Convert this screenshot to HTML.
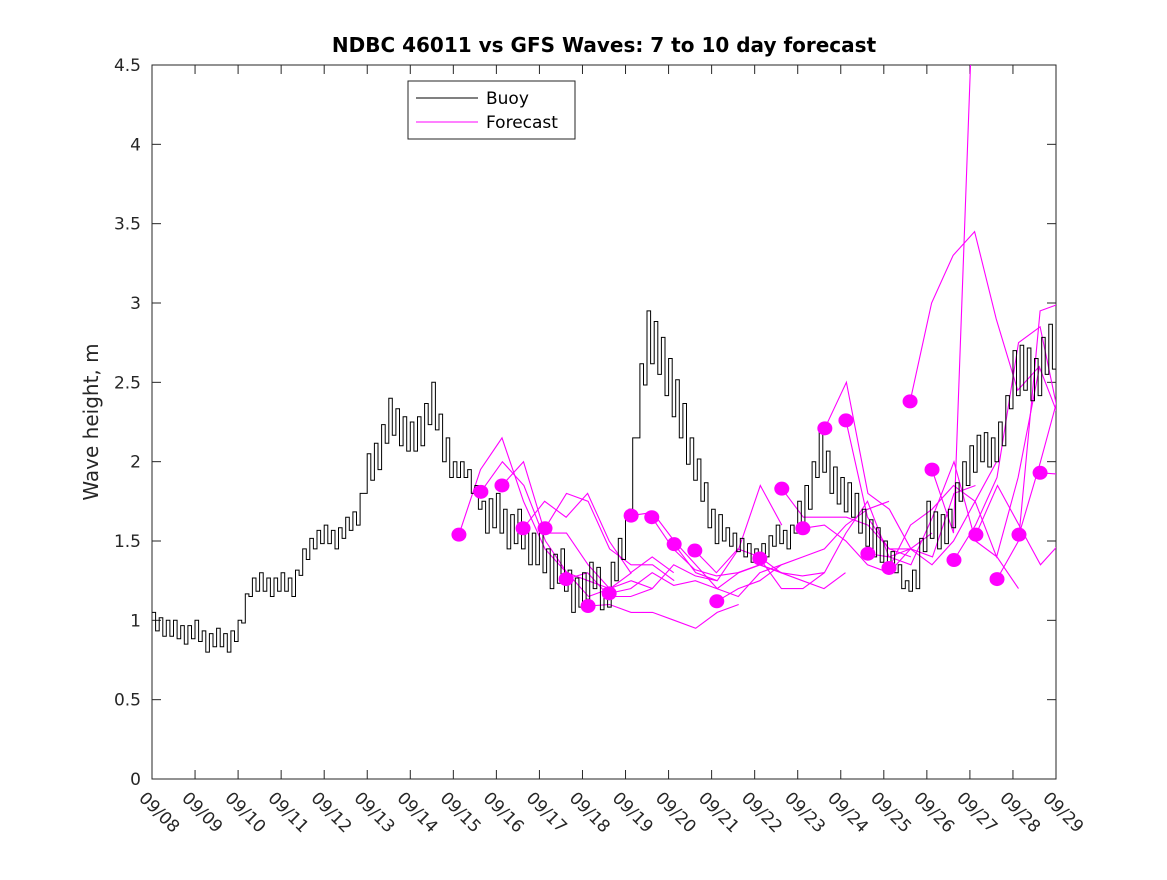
<!DOCTYPE html>
<html><head><meta charset="utf-8"><style>
body{margin:0;background:#fff}
svg text{font-family:"DejaVu Sans","Liberation Sans",sans-serif;fill:#262626}
</style></head><body>
<svg id="chart" width="1167" height="875" xmlns="http://www.w3.org/2000/svg">
<rect width="1167" height="875" fill="#fff"/>
<text x="604" y="52" text-anchor="middle" font-size="20" font-weight="bold" style="fill:#000">NDBC 46011 vs GFS Waves: 7 to 10 day forecast</text>
<text transform="translate(98,422) rotate(-90)" text-anchor="middle" font-size="20">Wave height, m</text>
<g id="axes"></g>
<g id="plot"></g>
<g>
<rect x="408" y="81" width="167" height="58" fill="#fff" stroke="#262626" stroke-width="1"/>
<line x1="416" y1="98" x2="478" y2="98" stroke="#000" stroke-width="1"/>
<text x="486" y="104" font-size="17" style="fill:#000">Buoy</text>
<line x1="416" y1="122" x2="478" y2="122" stroke="#f0f" stroke-width="1"/>
<text x="486" y="128" font-size="17" style="fill:#000">Forecast</text>
</g>
</svg>
<script>
const xTickLabels=["09/08","09/09","09/10","09/11","09/12","09/13","09/14","09/15","09/16","09/17","09/18","09/19","09/20","09/21","09/22","09/23","09/24","09/25","09/26","09/27","09/28","09/29"];
const yTicks=[0,0.5,1,1.5,2,2.5,3,3.5,4,4.5];
const yTickLabels=["0","0.5","1","1.5","2","2.5","3","3.5","4","4.5"];
const buoyStep=0.25;
const buoy=[1.0,0.95,0.95,0.9, 0.95,0.85,0.9,0.85, 0.95,1.2,1.25,1.2, 1.25,1.2,1.4,1.5, 1.55,1.5,1.6,1.65, 1.95,2.05,2.3,2.2, 2.15,2.2,2.4,2.1, 1.95,1.95,1.8,1.65, 1.7,1.55,1.6,1.45, 1.45,1.3,1.35,1.15, 1.2,1.3,1.1,1.35, 1.55,2.3,2.8,2.7, 2.5,2.3,2.05,1.85, 1.6,1.55,1.5,1.45, 1.4,1.45,1.55,1.5, 1.65,1.8,2.1,1.9, 1.8,1.75,1.6,1.5, 1.45,1.35,1.2,1.3, 1.65,1.55,1.6,1.85, 2.0,2.1,2.05,2.2, 2.55,2.6,2.5,2.7, 2.75];
const buoySpread=[0.1,0.1,0.1,0.1, 0.1,0.1,0.1,0.1, 0.1,0.1,0.1,0.1, 0.1,0.1,0.1,0.1, 0.1,0.1,0.1,0.1, 0.2,0.2,0.2,0.2, 0.2,0.2,0.2,0.2, 0.1,0.1,0.1,0.2, 0.2,0.2,0.2,0.2, 0.2,0.2,0.2,0.2, 0.2,0.2,0.2,0.2, 0.2,0.3,0.3,0.3, 0.3,0.3,0.2,0.2, 0.2,0.1,0.1,0.1, 0.1,0.1,0.1,0.1, 0.2,0.2,0.2,0.2, 0.2,0.2,0.2,0.2, 0.1,0.1,0.1,0.2, 0.2,0.2,0.2,0.2, 0.2,0.2,0.2,0.2, 0.3,0.3,0.3,0.3, 0.2];
const fcStep=0.5;
const fcStart=[7.13,7.64,8.13,8.62,9.13,9.62,10.13,10.62,11.13,11.61,12.13,12.61,13.12,14.12,14.63,15.12,15.63,16.12,16.63,17.12,17.61,18.12,18.63,19.14,19.63,20.14,20.63];
const fcVals=[
[1.54,1.95,2.15,1.75,1.45,1.3,1.25,1.2],
[1.81,2.0,1.85,1.5,1.3,1.15,1.2,1.3],
[1.85,2.0,1.55,1.55,1.35,1.2,1.25,1.2],
[1.58,1.75,1.65,1.8,1.5,1.3,1.4,1.3],
[1.58,1.8,1.75,1.45,1.35,1.35,1.25],
[1.26,1.3,1.15,1.15,1.2,1.35,1.28,1.25],
[1.09,1.1,1.05,1.05,1.0,0.95,1.05,1.1],
[1.17,1.2,1.3,1.22,1.25,1.2,1.15,1.3,1.35],
[1.66,1.68,1.5,1.35,1.2,1.3,1.35,1.3],
[1.65,1.45,1.32,1.28,1.3,1.35,1.3,1.28,1.3],
[1.48,1.3,1.25,1.45,1.85,1.6],
[1.44,1.3,1.45,1.4,1.3,1.25,1.2,1.3],
[1.12,1.2,1.25,1.35,1.4,1.45,1.6,1.7,1.75],
[1.39,1.2,1.2,1.3,1.55,1.75,1.4,1.45],
[1.83,1.65,1.65,1.65,1.6,1.45,1.4],
[1.58,1.6,1.5,1.35,1.3,1.45,1.55],
[2.21,2.5,1.8,1.7,1.45,1.4,1.8,1.85],
[2.26,1.65,1.45,1.45,1.35,1.5,1.75,2.0],
[1.42,1.4,1.35,1.65,2.0,1.5,1.4,1.2],
[1.33,1.6,1.7,1.85,1.75,1.4,1.9,2.6],
[2.38,3.0,3.3,3.45,2.9,2.45,2.6,2.25],
[1.95,1.55,5.3],
[1.38,1.6,1.9,2.75,2.85,2.2,1.9,1.85],
[1.54,1.85,1.6,1.35,1.5,1.35,1.45,1.6],
[1.26,1.5,2.95,3.0,2.6,2.3],
[1.54,2.0,2.5],
[1.93,1.92,1.92]
];
const L=152,R=1056,T=65,B=779,XMAX=21,YMAX=4.5;
const xs=d=>L+(R-L)*d/XMAX, ys=v=>B-(B-T)*v/YMAX;
const NS="http://www.w3.org/2000/svg";
const ax=document.getElementById('axes'), pl=document.getElementById('plot');
function mk(tag,attrs,parent){const e=document.createElementNS(NS,tag);for(const k in attrs)e.setAttribute(k,attrs[k]);parent.appendChild(e);return e;}
const defs=mk('defs',{},pl);
const cp=mk('clipPath',{id:'clip'},defs);
mk('rect',{x:L,y:T,width:R-L,height:B-T},cp);
const box=mk('rect',{x:L,y:T,width:R-L,height:B-T,fill:'none',stroke:'#262626','stroke-width':1},ax);


xTickLabels.forEach((lab,i)=>{
  const x=xs(i);
  mk('line',{x1:x,y1:B,x2:x,y2:B-9,stroke:'#262626'},ax);
  mk('line',{x1:x,y1:T,x2:x,y2:T+9,stroke:'#262626'},ax);
  const t=mk('text',{x:x-14,y:799,'font-size':17,transform:`rotate(45 ${x-14} 799)`},ax);
  t.textContent=lab;
  
  
});
yTicks.forEach((v,i)=>{
  const y=ys(v);
  mk('line',{x1:L,y1:y,x2:L+9,y2:y,stroke:'#262626'},ax);
  mk('line',{x1:R,y1:y,x2:R-9,y2:y,stroke:'#262626'},ax);
  const t=mk('text',{x:141,y:y+6,'font-size':17,'text-anchor':'end'},ax);
  t.textContent=yTickLabels[i];
  
  
});
const g=mk('g',{'clip-path':'url(#clip)'},pl);
fcVals.forEach((vals,k)=>{
  const pts=vals.map((v,j)=>xs(fcStart[k]+j*fcStep).toFixed(1)+','+ys(v).toFixed(1)).join(' ');
  const p=mk('polyline',{points:pts,fill:'none',stroke:'#f0f','stroke-width':1.1},g);
  
  
});
let bp=[];
const sub=3;
buoy.forEach((v,i)=>{
  if(i===buoy.length-1)return;
  const s=buoySpread[i];
  for(let h=0;h<sub;h++){
    const d0=(i+h/sub)*buoyStep, d1=(i+(h+1)/sub)*buoyStep;
    const base=v+(buoy[i+1]-v)*(h/sub);
    const val=base+(((i*sub+h)%2===0)?s/2:-s/2);
    bp.push(xs(d0).toFixed(1)+','+ys(val).toFixed(1));
    bp.push(xs(d1).toFixed(1)+','+ys(val).toFixed(1));
  }
});
const bl=mk('polyline',{points:bp.join(' '),fill:'none',stroke:'#000','stroke-width':1},g);


fcVals.forEach((vals,k)=>{
  const c=mk('ellipse',{cx:xs(fcStart[k]),cy:ys(vals[0]),rx:7.5,ry:7,fill:'#f0f'},g);
  
  
});
</script>
</body></html>
